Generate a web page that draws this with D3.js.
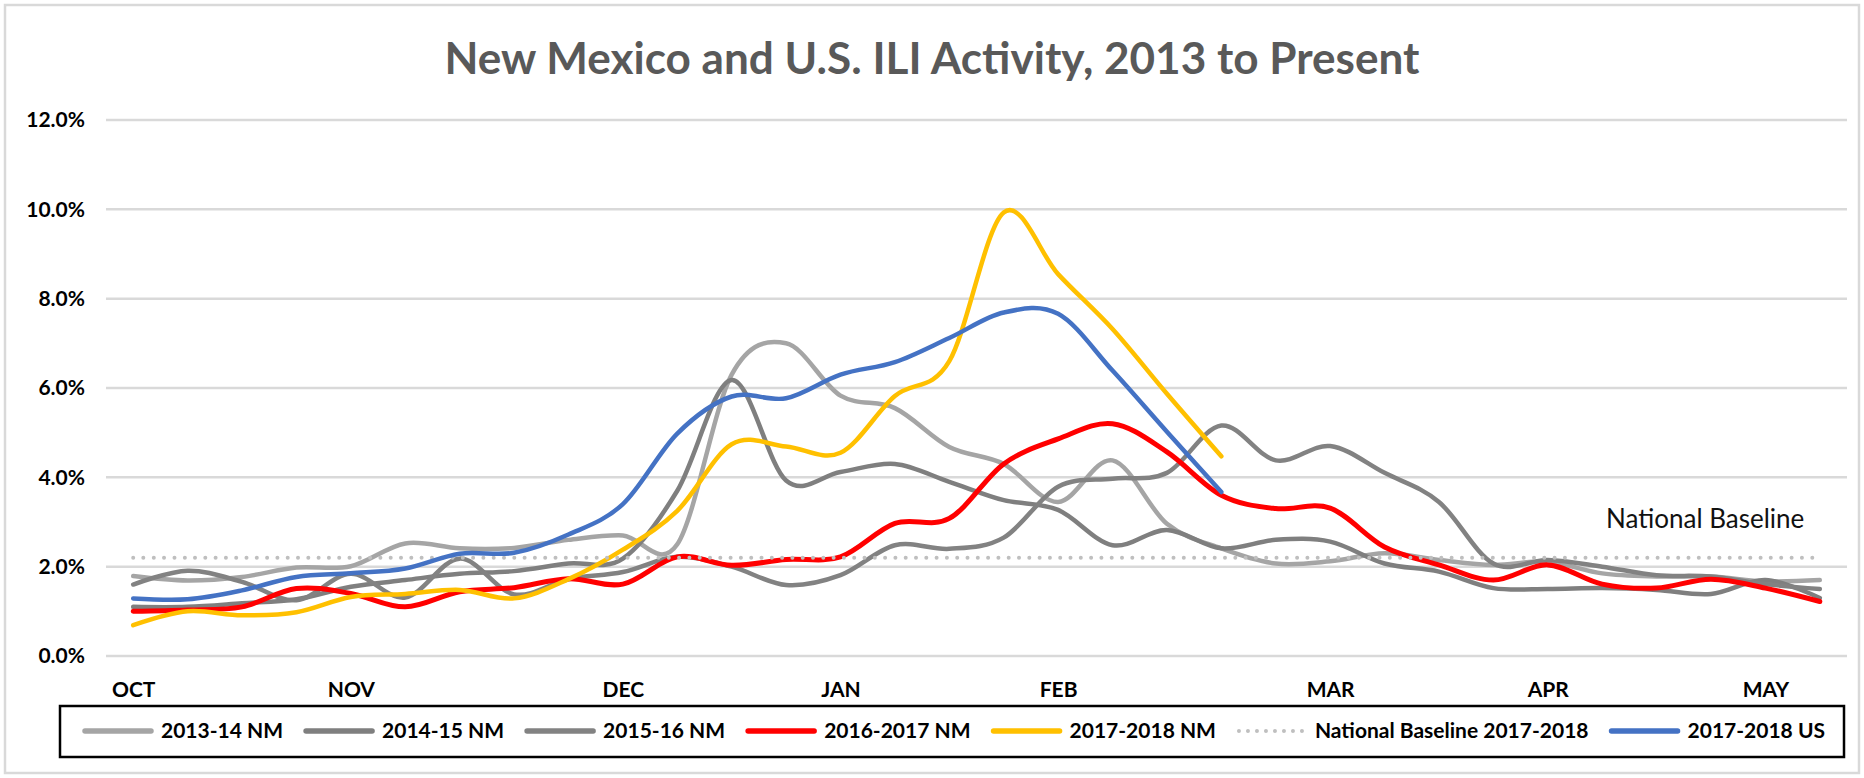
<!DOCTYPE html>
<html>
<head>
<meta charset="utf-8">
<script src="https://cdn.jsdelivr.net/npm/d3@7"></script>
<style>
  body { margin: 0; background: #fff; }
  svg { display: block; font-family: Lato, "Noto Sans", sans-serif; }
</style>
</head>
<body>
<svg id="chart"></svg>
<script>
// MMWR weeks 40 .. 19 (one season on the x axis)
const weeks = ["40", "41", "42", "43", "44", "45", "46", "47", "48", "49", "50", "51", "52",
    "1", "2", "3", "4", "5", "6", "7", "8", "9", "10", "11", "12", "13", "14", "15", "16", "17", "18", "19"];
const monthTicks = ["40", "44", "49", "1", "5", "10", "14", "18"];
const monthLabels = ["OCT", "NOV", "DEC", "JAN", "FEB", "MAR", "APR", "MAY"];
const yTicks = [0, 2, 4, 6, 8, 10, 12];

// % of visits for ILI
const nm2013_14 = [1.79, 1.69, 1.77, 1.98, 2.01, 2.52, 2.41, 2.42, 2.6, 2.7, 2.5, 6.3, 7.0, 5.83, 5.55, 4.68,
    4.3, 3.45, 4.38, 2.96, 2.41, 2.07, 2.12, 2.3, 2.15, 2.04, 2.11, 1.85, 1.78, 1.78, 1.67, 1.7];
const nm2014_15 = [1.1, 1.1, 1.18, 1.27, 1.55, 1.7, 1.84, 1.9, 2.07, 2.18, 3.7, 6.18, 3.93, 4.12, 4.3, 3.9,
    3.49, 3.27, 2.48, 2.82, 2.41, 2.6, 2.56, 2.07, 1.89, 1.52, 1.5, 1.52, 1.48, 1.39, 1.7, 1.3];
const nm2015_16 = [1.6, 1.91, 1.66, 1.25, 1.84, 1.31, 2.18, 1.38, 1.72, 1.88, 2.22, 2.0, 1.59, 1.81, 2.48, 2.4,
    2.65, 3.79, 3.97, 4.1, 5.16, 4.38, 4.7, 4.1, 3.45, 2.07, 2.15, 2.0, 1.81, 1.78, 1.61, 1.5];
const nm2016_17 = [1.0, 1.03, 1.1, 1.51, 1.4, 1.1, 1.44, 1.53, 1.73, 1.61, 2.22, 2.03, 2.16, 2.22, 2.97, 3.08,
    4.3, 4.86, 5.2, 4.57, 3.6, 3.3, 3.31, 2.44, 2.04, 1.7, 2.04, 1.61, 1.52, 1.72, 1.52, 1.22];
const nm2017_18 = [0.69, 1.0, 0.91, 0.98, 1.32, 1.39, 1.48, 1.29, 1.72, 2.38, 3.25, 4.74, 4.69, 4.55, 5.82, 6.6,
    9.93, 8.55, 7.32, 5.87, 4.47];
const baseline = [2.2, 2.2, 2.2, 2.2, 2.2, 2.2, 2.2, 2.2, 2.2, 2.2, 2.2, 2.2, 2.2, 2.2, 2.2, 2.2,
    2.2, 2.2, 2.2, 2.2, 2.2, 2.2, 2.2, 2.2, 2.2, 2.2, 2.2, 2.2, 2.2, 2.2, 2.2, 2.2];
const us2017_18 = [1.29, 1.27, 1.47, 1.77, 1.85, 1.96, 2.29, 2.31, 2.72, 3.4, 4.98, 5.81, 5.77, 6.3, 6.58, 7.12,
    7.69, 7.66, 6.39, 5.02, 3.67];

const series = [
    { name: "2013-14 NM", values: nm2013_14, color: "#A5A5A5", width: 4.5 },
    { name: "2014-15 NM", values: nm2014_15, color: "#7F7F7F", width: 4.5 },
    { name: "2015-16 NM", values: nm2015_16, color: "#828282", width: 4.5 },
    { name: "2016-2017 NM", values: nm2016_17, color: "#FF0000", width: 5 },
    { name: "2017-2018 NM", values: nm2017_18, color: "#FFC000", width: 4.5 },
    { name: "National Baseline 2017-2018", values: baseline, color: "#BFBFBF", width: 4, dotted: true },
    { name: "2017-2018 US", values: us2017_18, color: "#4472C4", width: 4.5 },
];

const width = 1864;
const height = 778;

const svg = d3.select("#chart").attr("width", width).attr("height", height);

// chart frame
svg.append("rect")
    .attr("x", 5).attr("y", 5)
    .attr("width", width - 10).attr("height", height - 10)
    .attr("fill", "#fff")
    .attr("stroke", "#D9D9D9")
    .attr("stroke-width", 2.5);

// scales
const x = d3.scalePoint().domain(weeks).range([106, 1847]).padding(0.5);
const y = d3.scaleLinear().domain([0, 12]).range([656, 120]);

// title
svg.append("text")
    .attr("x", 932)
    .attr("y", 74)
    .attr("text-anchor", "middle")
    .attr("font-size", 43)
    .attr("font-weight", "bold")
    .attr("fill", "#595959")
    .attr("textLength", 975)
    .attr("lengthAdjust", "spacingAndGlyphs")
    .text("New Mexico and U.S. ILI Activity, 2013 to Present");

// gridlines
svg.append("g")
    .selectAll("line")
    .data(yTicks)
    .join("line")
    .attr("x1", 106)
    .attr("x2", 1847)
    .attr("y1", (d) => y(d))
    .attr("y2", (d) => y(d))
    .attr("stroke", "#D9D9D9")
    .attr("stroke-width", 2.5);

// y axis
const yAxis = svg.append("g")
    .attr("transform", "translate(106,0)")
    .call(d3.axisLeft(y).tickValues(yTicks).tickSize(0).tickPadding(21).tickFormat((d) => d.toFixed(1) + "%"));
yAxis.select(".domain").remove();
yAxis.selectAll("text")
    .attr("font-family", "Lato, sans-serif")
    .attr("font-size", 21)
    .attr("font-weight", "bold")
    .attr("fill", "#000");

// x axis (month labels only)
const xAxis = svg.append("g")
    .attr("transform", "translate(0,656)")
    .call(d3.axisBottom(x).tickValues(monthTicks).tickSize(0).tickPadding(26)
        .tickFormat((d) => monthLabels[monthTicks.indexOf(d)]));
xAxis.select(".domain").remove();
xAxis.selectAll("text")
    .attr("font-family", "Lato, sans-serif")
    .attr("font-size", 21)
    .attr("font-weight", "bold")
    .attr("fill", "#000");

// lines, smoothed like Excel
const line = d3.line()
    .x((d, i) => x(weeks[i]))
    .y((d) => y(d))
    .curve(d3.curveCatmullRom.alpha(0));

svg.append("g")
    .selectAll("path")
    .data(series)
    .join("path")
    .attr("d", (d) => line(d.values))
    .attr("fill", "none")
    .attr("stroke", (d) => d.color)
    .attr("stroke-width", (d) => d.width)
    .attr("stroke-linecap", "round")
    .attr("stroke-linejoin", "round")
    .attr("stroke-dasharray", (d) => (d.dotted ? "0 10.3" : null));

// baseline annotation
svg.append("text")
    .attr("x", 1606)
    .attr("y", 528)
    .attr("font-size", 26)
    .attr("fill", "#111")
    .text("National Baseline");

// legend
svg.append("rect")
    .attr("x", 60).attr("y", 706)
    .attr("width", 1784).attr("height", 51)
    .attr("fill", "#fff")
    .attr("stroke", "#000")
    .attr("stroke-width", 2.5);

const legend = svg.append("g");
let lx = 85;
const ly = 731;
series.forEach((s) => {
    legend.append("line")
        .attr("x1", lx).attr("x2", lx + 66)
        .attr("y1", ly).attr("y2", ly)
        .attr("stroke", s.color)
        .attr("stroke-width", s.dotted ? 4 : 5.5)
        .attr("stroke-linecap", "round")
        .attr("stroke-dasharray", s.dotted ? "0 9" : null);
    const t = legend.append("text")
        .attr("x", lx + 76)
        .attr("y", ly)
        .attr("dy", "0.35em")
        .attr("font-size", 21)
        .attr("font-weight", "bold")
        .attr("fill", "#000")
        .text(s.name);
    lx += 76 + t.node().getComputedTextLength() + 23;
});
</script>
</body>
</html>
